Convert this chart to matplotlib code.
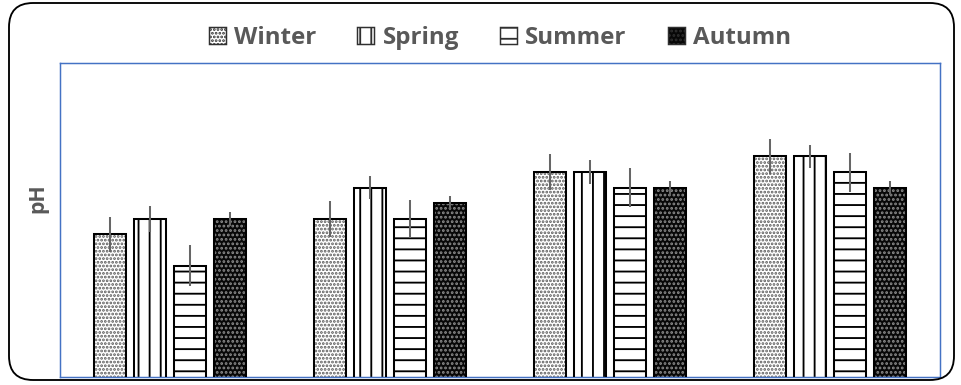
import numpy as np
import matplotlib.pyplot as plt
from matplotlib.patches import Patch, FancyBboxPatch

# pH by sampling site and season
sites = [1, 2, 3, 4]
seasons = ['Winter', 'Spring', 'Summer', 'Autumn']
ph_winter = [6.8, 7.0, 7.6, 7.8]
ph_spring = [7.0, 7.4, 7.6, 7.8]
ph_summer = [6.4, 7.0, 7.4, 7.6]
ph_autumn = [7.0, 7.2, 7.4, 7.4]
err_winter = [0.22, 0.23, 0.23, 0.22]
err_spring = [0.17, 0.15, 0.15, 0.15]
err_summer = [0.26, 0.24, 0.25, 0.25]
err_autumn = [0.09, 0.09, 0.09, 0.09]

values = [ph_winter, ph_spring, ph_summer, ph_autumn]
errors = [err_winter, err_spring, err_summer, err_autumn]

# fill colour, hatch, hatch colour per season
styles = [
    ('white', '......', '#5a5a5a'),
    ('white', '||', 'black'),
    ('white', '--', 'black'),
    ('#080808', '.....', '#8c8c8c'),
]

DPI = 961 / 7.2
plt.rcParams['hatch.linewidth'] = 1.0
plt.rcParams['font.family'] = ['Open Sans', 'DejaVu Sans']

fig = plt.figure(figsize=(961 / DPI, 385 / DPI), dpi=DPI)
ax = fig.add_axes([60 / 961, 8 / 385, 880 / 961, 314 / 385])

x = np.arange(len(sites))
slot = 40 / 220
width = 32 / 220
for i, (vals, errs) in enumerate(zip(values, errors)):
    face, hatch, hcol = styles[i]
    pos = x + (i - 1.5) * slot
    ax.bar(pos, vals, width, facecolor=face, hatch=hatch, edgecolor=hcol,
           linewidth=0, zorder=2)
    ax.bar(pos, vals, width, fill=False, edgecolor='black', linewidth=1.1,
           zorder=3)
    ax.errorbar(pos, vals, yerr=errs, fmt='none', ecolor='#666666',
                elinewidth=1.1, capsize=0, zorder=4)

ax.set_xlim(-0.5, len(sites) - 0.5)
ax.set_ylim(4.97, 9)
ax.set_xticks([])
ax.set_yticks([])
for sp in ax.spines.values():
    sp.set_color('#4472C4')
    sp.set_linewidth(0.8)

fig.text(38 / 961, 1 - 198 / 385, 'pH', rotation=90, ha='center', va='center',
         fontsize=11.5, fontweight='bold', color='#595959')

handles = [Patch(facecolor=s[0], hatch=s[1], edgecolor='#303030', linewidth=0.8)
           for s in styles]
fig.legend(handles, seasons, loc='center', bbox_to_anchor=(500 / 961, 1 - 38 / 385),
           ncol=4, frameon=False, handlelength=0.7, handleheight=0.7,
           handletextpad=0.35, columnspacing=1.7,
           prop={'weight': 'bold', 'size': 13}, labelcolor='#595959')

# rounded outer frame
frame = FancyBboxPatch((9 / 961, 5 / 385), 945 / 961, 377 / 385,
                       boxstyle='round,pad=0,rounding_size=0.025',
                       transform=fig.transFigure, fill=False,
                       edgecolor='black', linewidth=1.0,
                       mutation_aspect=961 / 385)
fig.patches.append(frame)

fig.savefig('out.png', dpi=DPI)
plt.close(fig)
